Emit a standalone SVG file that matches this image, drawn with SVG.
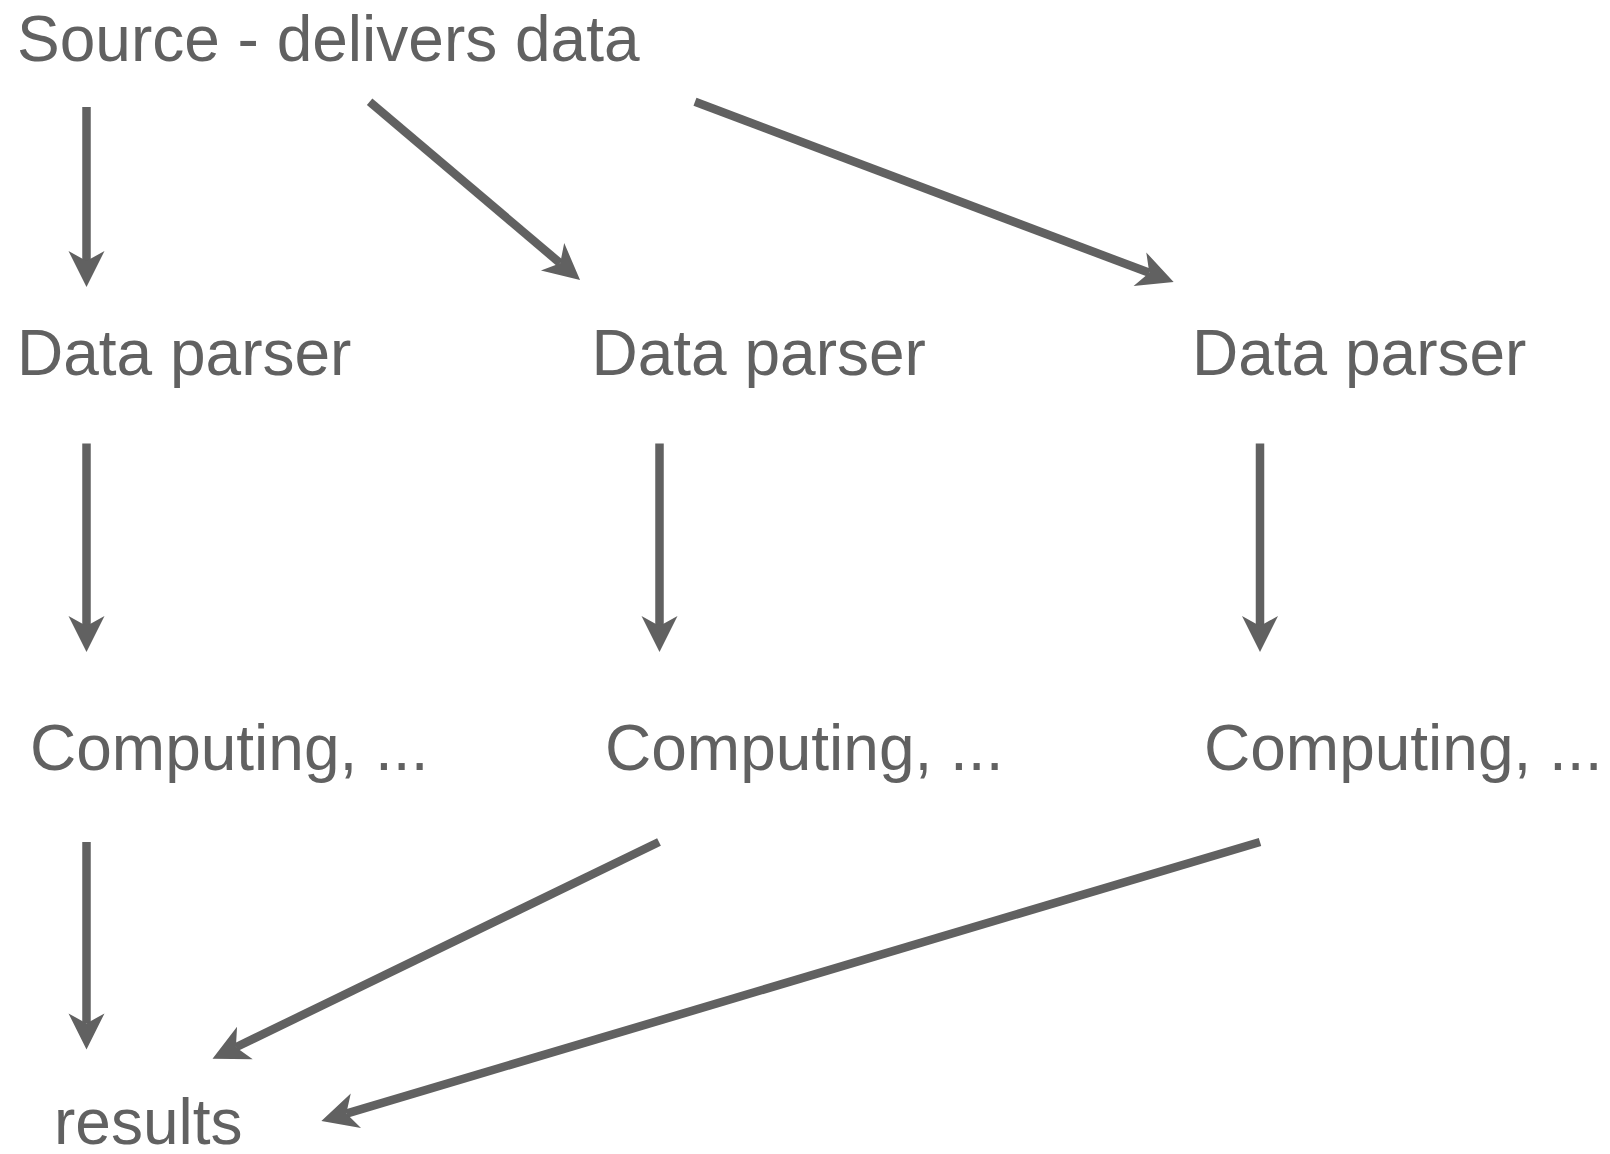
<svg xmlns="http://www.w3.org/2000/svg" width="1610" height="1154" viewBox="0 0 1610 1154">
  <style>
    .lbl { font-family: "Liberation Sans", Arial, sans-serif; font-size: 64px; fill: #616161; }
    .edge { stroke: #616161; stroke-width: 8.5; fill: none; marker-end: url(#head); }
  </style>
  <defs>
    <!-- notched arrowhead; origin sits at the notch so the line ends under it -->
    <marker id="head" markerUnits="userSpaceOnUse" orient="auto" viewBox="-14 -20 44 40" refX="0" refY="0" markerWidth="44" markerHeight="40">
      <path d="M26,0 L-10,-18 L0,0 L-10,18 Z" fill="#616161"/>
    </marker>
  </defs>
  <rect width="1610" height="1154" fill="#ffffff"/>

  <g id="connectors">
    <line class="edge" x1="86.5" y1="107" x2="86.5" y2="261"/>
    <line class="edge" x1="369.6" y1="101.7" x2="560.2" y2="263.2"/>
    <line class="edge" x1="695" y1="101.7" x2="1149.3" y2="272.8"/>
    <line class="edge" x1="86.5" y1="443.6" x2="86.5" y2="626"/>
    <line class="edge" x1="659.5" y1="443.6" x2="659.5" y2="626"/>
    <line class="edge" x1="1260" y1="443.6" x2="1260" y2="626"/>
    <line class="edge" x1="86.5" y1="842" x2="86.5" y2="1023.4"/>
    <line class="edge" x1="659" y1="842" x2="235.9" y2="1047.3"/>
    <line class="edge" x1="1260" y1="842" x2="346.3" y2="1113.6"/>
  </g>

  <g id="source"><text class="lbl" x="17" y="61">Source - delivers data</text></g>
  <g id="parser1"><text class="lbl" x="17" y="375">Data parser</text></g>
  <g id="parser2"><text class="lbl" x="591.5" y="375">Data parser</text></g>
  <g id="parser3"><text class="lbl" x="1192" y="375">Data parser</text></g>
  <g id="compute1"><text class="lbl" x="30" y="770">Computing, ...</text></g>
  <g id="compute2"><text class="lbl" x="605" y="770">Computing, ...</text></g>
  <g id="compute3"><text class="lbl" x="1204" y="770">Computing, ...</text></g>
  <g id="results"><text class="lbl" x="54" y="1144">results</text></g>
</svg>
